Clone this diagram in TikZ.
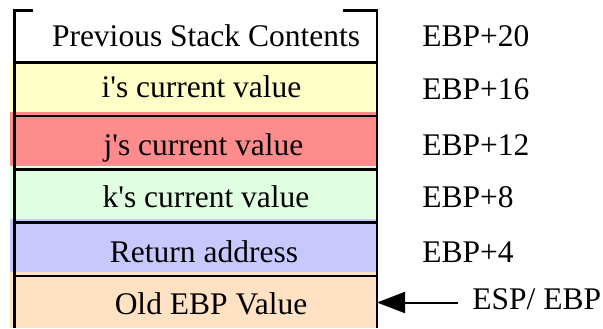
\documentclass[tikz,border=0pt]{standalone}
\usepackage{fontspec}
\setmainfont{Liberation Serif}[Ligatures=TeXOff]
\usetikzlibrary{arrows.meta}
\definecolor{cyel}{RGB}{255,255,200}
\definecolor{cred}{RGB}{255,140,140}
\definecolor{cgrn}{RGB}{224,255,224}
\definecolor{cblu}{RGB}{200,200,255}
\definecolor{corg}{RGB}{255,226,196}
\begin{document}
\begin{tikzpicture}[x=0.5pt,y=-0.5pt,
  rowfill/.style={rectangle,inner sep=0pt,draw=none,anchor=north west,minimum width=183.5pt},
  txt/.style={font=\fontsize{15.75pt}{18pt}\selectfont,inner sep=0pt,anchor=base},
  lab/.style={font=\fontsize{15.75pt}{18pt}\selectfont,inner sep=0pt,anchor=base west},
  edge/.style={line width=1.4pt}]
\useasboundingbox (0,0) rectangle (603,328);
% row fills
\node[rowfill,fill=cyel,minimum height=25pt] (r1) at (10,62) {};
\node[rowfill,fill=cred,minimum height=27pt] (r2) at (10,112) {};
\node[rowfill,fill=cgrn,minimum height=26.5pt] (r3) at (10,166) {};
\node[rowfill,fill=cblu,minimum height=26.5pt] (r4) at (10,219) {};
\node[rowfill,fill=corg,minimum height=28pt] (r5) at (10,272) {};
% outline
\coordinate (tl) at (14.5,10.5);
\coordinate (tr) at (377,10.5);
\coordinate (bl) at (14.5,328);
\coordinate (br) at (377,328);
\draw[edge] (33,10.5) -- (tl) -- (bl);
\draw[edge] (343,10.5) -- (tr) -- (br);
\foreach \yy in {62.5,116,169.5,222.5,276}
  \draw[edge] (14.5,\yy) -- (377,\yy);
% texts
\node[txt] (t0) at (206,46) {Previous Stack Contents};
\node[txt] (t1) at (201.5,97) {i's current value};
\node[txt] (t2) at (203.5,155) {j's current value};
\node[txt] (t3) at (206,207) {k's current value};
\node[txt] (t4) at (204,262) {Return address};
\node[txt] (t5) at (211,314) {Old EBP Value};
% labels
\node[lab] (l0) at (422,46) {EBP+20};
\node[lab] (l1) at (422,99) {EBP+16};
\node[lab] (l2) at (422,155) {EBP+12};
\node[lab] (l3) at (422,207) {EBP+8};
\node[lab] (l4) at (422,262) {EBP+4};
\node[lab] (l5) at (472,309) {ESP/ EBP};
% arrow
\coordinate (as) at (458,302.5);
\coordinate (ae) at (377,302.5);
\draw[line width=1pt,-{Triangle[length=14pt,width=10.5pt]}] (as) -- (ae);
\end{tikzpicture}
\end{document}
